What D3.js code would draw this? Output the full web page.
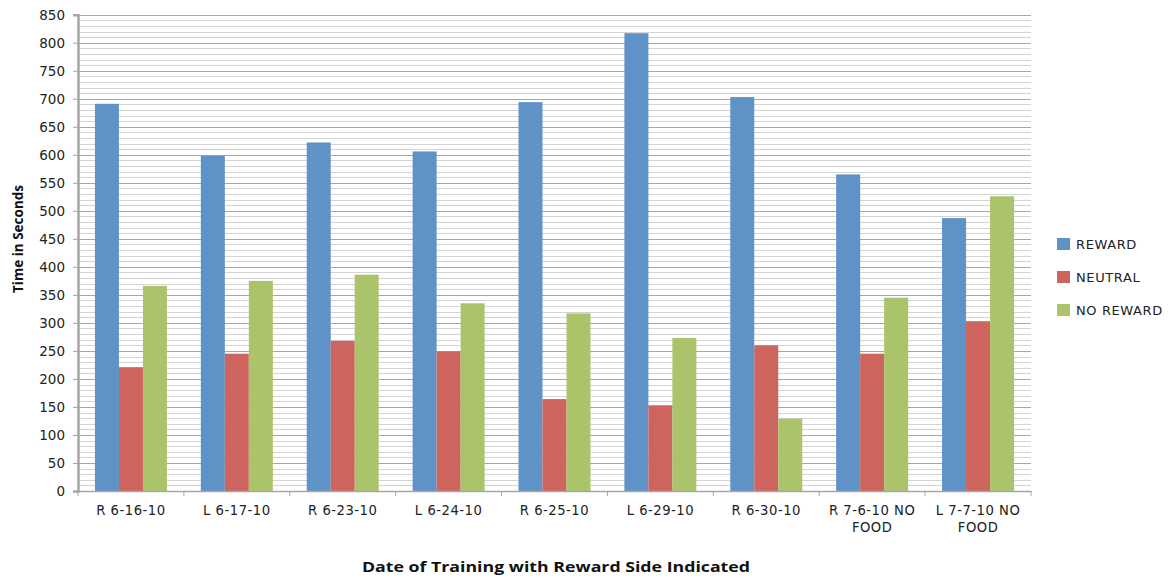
<!DOCTYPE html>
<html>
<head>
<meta charset="utf-8">
<script src="https://cdn.jsdelivr.net/npm/d3@7/dist/d3.min.js"></script>
<style>
  html, body { margin: 0; padding: 0; background: #fff; }
  svg { display: block; }
</style>
</head>
<body>
<svg id="chart" width="1175" height="581"></svg>
<script>
const categories = [
  ["R 6-16-10"], ["L 6-17-10"], ["R 6-23-10"], ["L 6-24-10"], ["R 6-25-10"],
  ["L 6-29-10"], ["R 6-30-10"], ["R 7-6-10 NO", "FOOD"], ["L 7-7-10 NO", "FOOD"]
];
const seriesNames = ["REWARD", "NEUTRAL", "NO REWARD"];
const reward   = [691, 598, 622, 606, 694, 817, 703, 565, 487];
const neutral  = [221, 245, 268, 249, 164, 153, 260, 245, 303];
const noReward = [366, 375, 386, 335, 317, 273, 129, 345, 526];
const colors = ["#5f93c8", "#cd645d", "#abc46c"];
const yTicks = d3.range(0, 851, 50);
const yMinor = d3.range(0, 851, 10);

(function () {
const series = [reward, neutral, noReward];
const svg = d3.select("#chart");
const pL = 78, pR = 1031, pT = 14.7, pB = 491;
const labelFont = "'DejaVu Sans', Verdana, sans-serif";

const x = d3.scaleBand().domain(d3.range(categories.length)).range([pL, pR]).paddingInner(0).paddingOuter(0);
const y = d3.scaleLinear().domain([0, 850]).range([pB, pT]);

// Minor grid
svg.append("g").selectAll("line").data(yMinor.filter(v => v % 50 !== 0)).join("line")
  .attr("x1", pL).attr("x2", pR)
  .attr("y1", d => Math.round(y(d)) + 0.5).attr("y2", d => Math.round(y(d)) + 0.5)
  .attr("stroke", "#d4d4d4").attr("stroke-width", 1);
// Major grid
svg.append("g").selectAll("line").data(yTicks.filter(v => v > 0)).join("line")
  .attr("x1", pL).attr("x2", pR)
  .attr("y1", d => Math.round(y(d)) + 0.5).attr("y2", d => Math.round(y(d)) + 0.5)
  .attr("stroke", "#a6a6a6").attr("stroke-width", 1);

// Bars
const bw = 24;
const groups = svg.append("g").selectAll("g").data(categories).join("g")
  .attr("transform", (d, i) => `translate(${x(i)},0)`);
groups.each(function(d, i) {
  const g = d3.select(this);
  const start = (x.bandwidth() - bw * 3) / 2;
  series.forEach((s, k) => {
    g.append("rect")
      .attr("x", start + k * bw)
      .attr("y", y(s[i]))
      .attr("width", bw)
      .attr("height", y(0) - y(s[i]))
      .attr("fill", colors[k]);
  });
});

// Y axis
const yAxis = d3.axisLeft(y).tickValues(yTicks).tickSize(5).tickPadding(8);
const yg = svg.append("g").attr("transform", `translate(${pL},0)`).call(yAxis);
yg.select(".domain").attr("stroke", "#a6a6a6").attr("stroke-width", 2.5);
yg.selectAll(".tick line").attr("stroke", "#a6a6a6");
yg.selectAll(".tick text").attr("font-family", labelFont).attr("font-size", 13.5).attr("fill", "#222");

// X axis
const xAxis = d3.axisBottom(x).tickSize(0).tickFormat("");
const xg = svg.append("g").attr("transform", `translate(0,${pB})`).call(xAxis);
xg.select(".domain").attr("stroke", "#a6a6a6").attr("stroke-width", 1.5);
svg.append("g").selectAll("line").data(d3.range(categories.length + 1)).join("line")
  .attr("x1", i => i < categories.length ? x(i) : pR)
  .attr("x2", i => i < categories.length ? x(i) : pR)
  .attr("y1", pB).attr("y2", pB + 5)
  .attr("stroke", "#a6a6a6");

// X labels
categories.forEach((lines, i) => {
  const t = svg.append("text")
    .attr("x", x(i) + x.bandwidth() / 2)
    .attr("y", 515)
    .attr("text-anchor", "middle")
    .attr("font-family", labelFont)
    .attr("font-size", 13.2)
    .attr("letter-spacing", 0.5)
    .attr("fill", "#222");
  lines.forEach((ln, j) => {
    t.append("tspan").attr("x", x(i) + x.bandwidth() / 2).attr("dy", j === 0 ? 0 : 17).text(ln);
  });
});

// Axis titles
svg.append("text")
  .attr("transform", `translate(23,239) rotate(-90)`)
  .attr("text-anchor", "middle")
  .attr("font-family", "'Open Sans', sans-serif")
  .attr("font-weight", "bold")
  .attr("font-size", 14.5)
  .attr("textLength", 108)
  .attr("lengthAdjust", "spacingAndGlyphs")
  .attr("fill", "#111")
  .text("Time in Seconds");

svg.append("text")
  .attr("x", 556).attr("y", 572)
  .attr("text-anchor", "middle")
  .attr("font-family", "'Open Sans', sans-serif")
  .attr("font-weight", "bold")
  .attr("font-size", 15)
  .attr("textLength", 388)
  .attr("lengthAdjust", "spacingAndGlyphs")
  .attr("fill", "#111")
  .text("Date of Training with Reward Side Indicated");

// Legend
const legendY = [244, 277, 310];
seriesNames.forEach((name, k) => {
  svg.append("rect").attr("x", 1057).attr("y", legendY[k] - 6).attr("width", 13).attr("height", 12).attr("fill", colors[k]);
  svg.append("text").attr("x", 1076).attr("y", legendY[k] + 5)
    .attr("font-family", labelFont)
    .attr("font-size", 13).attr("letter-spacing", 0.6).attr("fill", "#222").text(name);
});
})();
</script>
</body>
</html>
